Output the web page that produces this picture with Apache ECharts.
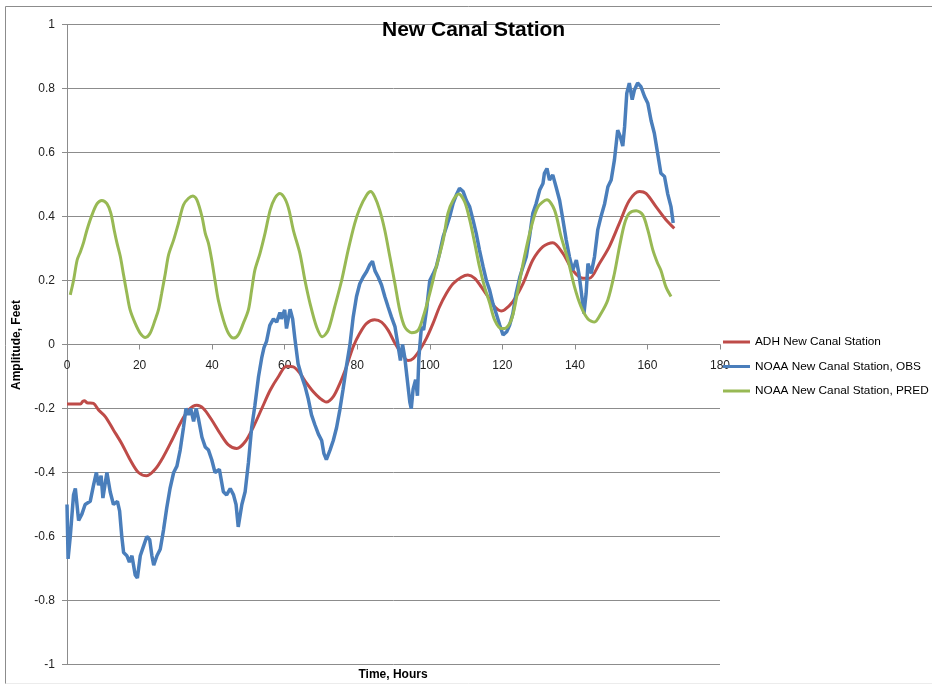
<!DOCTYPE html>
<html>
<head>
<meta charset="utf-8">
<title>New Canal Station</title>
<script src="https://cdn.jsdelivr.net/npm/echarts@6/dist/echarts.min.js"></script>
<style>
  html, body { margin: 0; padding: 0; background: #fff; }
  #chart { width: 932px; height: 684px; }
</style>
</head>
<body>
<div id="chart"></div>
<script>
// ADH model (red)
const adhHours = [0, 3.7, 4.3, 4.9, 5.5, 7.3, 8.7, 10.6, 12.8, 15.1, 17.4, 19.7, 22, 24.3, 26.6, 28.9, 31.2, 33.5, 35.8, 37.6,
  39.9, 42.2, 44.5, 46.8, 49.1, 51.4, 53.7, 56, 58.3, 60.5, 62.4, 64.2, 66, 67.9, 69.7, 71.5, 73.4, 75.2, 77, 78.9,
  80.7, 82.6, 84.8, 86.7, 88.5, 90.4, 92.2, 94, 95.4, 97.2, 99.1, 100.9, 102.7, 104.6, 106.4, 108.7, 110.5, 112.4, 114.2, 116,
  117.9, 119.7, 120.6, 122.9, 125.7, 128.4, 131.2, 133.9, 136.7, 139.4, 142.2, 144, 146.8, 149.5, 152.3, 155, 157.8, 159.6, 162.4, 165.1,
  167.4]
const adhFeet = [-0.186, -0.186, -0.178, -0.176, -0.182, -0.184, -0.205, -0.226, -0.267, -0.31, -0.36, -0.40, -0.41, -0.39, -0.35, -0.30, -0.247, -0.205, -0.19, -0.20,
  -0.236, -0.278, -0.314, -0.325, -0.304, -0.257, -0.20, -0.143, -0.10, -0.068, -0.07, -0.09, -0.12, -0.148, -0.168, -0.18, -0.163, -0.122, -0.07, -0.007,
  0.035, 0.066, 0.077, 0.07, 0.045, 0.004, -0.028, -0.05, -0.044, -0.018, 0.02, 0.066, 0.118, 0.16, 0.19, 0.21, 0.217, 0.207, 0.18, 0.15,
  0.118, 0.105, 0.108, 0.134, 0.19, 0.264, 0.306, 0.318, 0.285, 0.232, 0.207, 0.207, 0.254, 0.306, 0.38, 0.45, 0.478, 0.472, 0.43, 0.39,
  0.363]

// NOAA observed (blue)
const obsHours = [0, 0.3, 0.9, 1.8, 2.3, 3.2, 4.1, 5.0, 6.4, 7.3, 8.1, 8.7, 9.4, 9.9, 11.0, 11.9, 12.8, 13.9, 14.5, 15.1,
  15.6, 16.5, 17.2, 17.9, 18.8, 19.4, 20.2, 21.1, 22.0, 22.8, 23.4, 23.9, 24.8, 25.7, 26.6, 27.5, 28.4, 29.4, 30.3, 31.2,
  32.1, 32.8, 33.5, 34.1, 34.9, 35.6, 36.2, 37.2, 38.1, 39.0, 39.9, 40.8, 42.0, 43.1, 44.0, 45.0, 45.9, 46.6, 47.2, 48.2,
  49.1, 50.0, 50.9, 51.8, 52.8, 53.7, 54.3, 55.0, 55.9, 56.9, 57.8, 58.7, 59.1, 60.0, 60.5, 61.5, 62.2, 62.8, 63.7, 64.7,
  65.6, 66.5, 67.4, 68.3, 69.3, 70.2, 70.8, 71.5, 72.5, 73.4, 74.3, 75.2, 76.1, 77.0, 78.0, 78.9, 79.8, 80.7, 81.6, 82.6,
  83.5, 84.2, 84.9, 85.8, 86.7, 87.6, 88.5, 89.4, 90.4, 91.3, 91.9, 92.5, 93.1, 93.7, 94.5, 94.9, 95.4, 96.1, 96.6, 97.0,
  97.7, 98.3, 99.1, 100.0, 100.9, 101.8, 102.7, 103.7, 104.6, 105.5, 106.4, 107.3, 108.2, 109.2, 110.1, 111.0, 111.9, 112.8, 113.7, 114.7,
  115.6, 116.5, 117.4, 118.3, 119.3, 120.2, 121.2, 122.0, 122.9, 123.8, 124.8, 125.7, 126.6, 127.5, 128.4, 129.3, 130.3, 131.2, 131.6, 132.3,
  133.0, 133.9, 134.8, 135.8, 136.7, 137.6, 138.5, 139.4, 140.4, 141.1, 141.7, 142.5, 143.1, 143.6, 144.5, 145.4, 146.3, 147.2, 148.2, 149.1,
  150.0, 150.9, 151.8, 152.5, 153.2, 153.7, 154.3, 155.0, 155.8, 156.4, 157.3, 158.2, 159.2, 160.1, 161.0, 161.9, 162.8, 163.7, 164.7, 165.6,
  166.5, 167.1]
const obsFeet = [-0.50, -0.67, -0.60, -0.47, -0.45, -0.55, -0.53, -0.50, -0.49, -0.44, -0.40, -0.44, -0.41, -0.48, -0.40, -0.46, -0.50, -0.49, -0.52, -0.60,
  -0.65, -0.66, -0.68, -0.66, -0.72, -0.73, -0.66, -0.63, -0.60, -0.61, -0.66, -0.69, -0.66, -0.64, -0.58, -0.51, -0.45, -0.40, -0.38, -0.33,
  -0.26, -0.20, -0.22, -0.20, -0.24, -0.20, -0.23, -0.29, -0.32, -0.33, -0.36, -0.40, -0.39, -0.46, -0.47, -0.45, -0.47, -0.50, -0.57, -0.50,
  -0.46, -0.37, -0.26, -0.19, -0.10, -0.04, -0.01, 0.01, 0.06, 0.08, 0.07, 0.10, 0.08, 0.108, 0.05, 0.11, 0.08, 0.02, -0.06, -0.10,
  -0.13, -0.17, -0.22, -0.25, -0.28, -0.30, -0.34, -0.36, -0.33, -0.30, -0.26, -0.205, -0.14, -0.07, 0.0, 0.087, 0.15, 0.19, 0.21, 0.228,
  0.25, 0.26, 0.23, 0.21, 0.186, 0.15, 0.118, 0.087, 0.056, -0.007, -0.05, 0.0, -0.04, -0.10, -0.18, -0.20, -0.14, -0.11, -0.16, -0.04,
  0.055, 0.045, 0.108, 0.2, 0.22, 0.243, 0.285, 0.337, 0.368, 0.40, 0.44, 0.467, 0.488, 0.478, 0.45, 0.43, 0.39, 0.347, 0.295, 0.243,
  0.20, 0.17, 0.128, 0.097, 0.06, 0.03, 0.04, 0.06, 0.097, 0.16, 0.21, 0.243, 0.274, 0.337, 0.41, 0.44, 0.483, 0.503, 0.535, 0.55,
  0.514, 0.53, 0.493, 0.45, 0.39, 0.327, 0.274, 0.232, 0.264, 0.222, 0.17, 0.097, 0.16, 0.253, 0.222, 0.274, 0.358, 0.40, 0.44, 0.493,
  0.514, 0.577, 0.67, 0.65, 0.62, 0.68, 0.785, 0.817, 0.765, 0.795, 0.817, 0.806, 0.775, 0.754, 0.70, 0.66, 0.598, 0.535, 0.525, 0.47,
  0.43, 0.38]

// NOAA predicted (green)
const predHours = [0.9, 1.8, 2.8, 3.7, 4.6, 5.5, 6.9, 8.3, 9.6, 11, 12.1, 13, 13.8, 14.7, 15.6, 16.5, 17.4, 18.8, 20.2, 21.6,
  22.9, 24.3, 25.2, 26.1, 27.1, 28, 29.4, 30.7, 32.1, 33.5, 34.7, 35.8, 37.2, 38.1, 39, 39.9, 40.8, 41.7, 43.1, 44.5,
  45.9, 47.2, 48.6, 50, 50.9, 51.8, 53.2, 54.6, 56, 57.3, 58.7, 60.1, 61.2, 62.4, 64.2, 65.6, 67, 68.8, 70.4, 72,
  73.8, 75.7, 77.5, 79.3, 80.7, 82.6, 83.7, 84.8, 86.2, 87.6, 89, 90.4, 91.7, 93.1, 95, 96.8, 98.2, 100, 101.8, 103.7,
  105, 106.4, 108, 109.6, 111, 112.4, 113.7, 115.1, 116.5, 117.9, 119.7, 120.6, 122.5, 124.3, 126.1, 128, 129.8, 132.3, 134.4, 136.2,
  138.1, 139.9, 141.7, 143.6, 145.4, 147.2, 149.1, 150.9, 152.3, 153.7, 155, 156.9, 158.7, 160.1, 161.5, 162.8, 163.7, 165.1, 166.5]
const predFeet = [0.155, 0.20, 0.264, 0.29, 0.32, 0.358, 0.405, 0.44, 0.45, 0.44, 0.41, 0.358, 0.316, 0.275, 0.217, 0.16, 0.108, 0.066, 0.035, 0.022,
  0.035, 0.077, 0.108, 0.16, 0.222, 0.28, 0.327, 0.378, 0.436, 0.457, 0.464, 0.452, 0.40, 0.348, 0.316, 0.264, 0.20, 0.139, 0.077, 0.035,
  0.02, 0.03, 0.066, 0.108, 0.17, 0.233, 0.285, 0.348, 0.42, 0.457, 0.472, 0.455, 0.42, 0.357, 0.285, 0.20, 0.128, 0.055, 0.024, 0.045,
  0.118, 0.2, 0.295, 0.378, 0.425, 0.467, 0.478, 0.462, 0.42, 0.357, 0.274, 0.19, 0.108, 0.055, 0.037, 0.045, 0.087, 0.16, 0.243, 0.326,
  0.41, 0.45, 0.47, 0.446, 0.39, 0.316, 0.243, 0.18, 0.13, 0.076, 0.05, 0.05, 0.077, 0.17, 0.275, 0.368, 0.43, 0.452, 0.42, 0.337,
  0.264, 0.18, 0.118, 0.08, 0.07, 0.097, 0.14, 0.222, 0.306, 0.378, 0.41, 0.418, 0.405, 0.358, 0.295, 0.254, 0.232, 0.18, 0.15]

const seriesNames = ['ADH New Canal Station', 'NOAA New Canal Station, OBS', 'NOAA New Canal Station, PRED']
const seriesColors = ['#BE4B48', '#4A7EBB', '#98B954']

function pairs(xs, ys) {
  return xs.map((x, i) => [x, ys[i]])
}

const font = 'Liberation Sans, Arial, sans-serif'
const chart = echarts.init(document.getElementById('chart'))

const option = {
  animation: false,
  backgroundColor: '#fff',
  color: seriesColors,
  title: {
    text: 'New Canal Station',
    left: 382,
    top: 20,
    padding: 0,
    textStyle: { fontFamily: font, fontSize: 21, fontWeight: 'bold', color: '#000' }
  },
  grid: {
    left: 67,
    top: 24.5,
    width: 653,
    height: 640,
    outerBoundsMode: 'none'
  },
  legend: {
    data: seriesNames,
    orient: 'vertical',
    left: 723,
    top: 335,
    padding: 0,
    itemGap: 10.5,
    itemWidth: 27,
    itemHeight: 3,
    icon: 'rect',
    textStyle: { fontFamily: font, fontSize: 11.8, color: '#000', lineHeight: 14 }
  },
  xAxis: {
    type: 'value',
    min: 0,
    max: 180,
    interval: 20,
    position: 'bottom',
    // the axis crosses at 0 ft: pull it up half the grid height (640 / 2)
    offset: -320,
    axisLine: { onZero: false, lineStyle: { color: '#8c8c8c', width: 1 } },
    axisTick: { length: 5, lineStyle: { color: '#8c8c8c' } },
    axisLabel: { margin: 15, fontFamily: font, fontSize: 12, color: '#222' },
    splitLine: { show: false }
  },
  yAxis: {
    type: 'value',
    min: -1,
    max: 1,
    interval: 0.2,
    axisLine: { show: true, onZero: false, lineStyle: { color: '#8c8c8c', width: 1 } },
    axisTick: { show: true, length: 5, lineStyle: { color: '#8c8c8c' } },
    axisLabel: { margin: 12, fontFamily: font, fontSize: 12, color: '#222' },
    splitLine: { show: true, lineStyle: { color: '#8c8c8c', width: 1 } }
  },
  graphic: [
    // outer chart border (top and left edges show in the picture)
    { type: 'line', shape: { x1: 5.5, y1: 6.5, x2: 932, y2: 6.5 }, style: { stroke: '#8c8c8c', lineWidth: 1 } },
    { type: 'line', shape: { x1: 5.5, y1: 6.5, x2: 5.5, y2: 684 }, style: { stroke: '#8c8c8c', lineWidth: 1 } },
    { type: 'line', shape: { x1: 5.5, y1: 683.5, x2: 932, y2: 683.5 }, style: { stroke: '#ececec', lineWidth: 1 } },
    {
      type: 'text', x: 17, y: 345, rotation: Math.PI / 2,
      style: { text: 'Amplitude, Feet', font: 'bold 12px ' + font, fill: '#000', align: 'center', verticalAlign: 'middle' }
    },
    {
      type: 'text', x: 393, y: 675,
      style: { text: 'Time, Hours', font: 'bold 12px ' + font, fill: '#000', align: 'center', verticalAlign: 'middle' }
    }
  ],
  series: [
    {
      name: seriesNames[0], type: 'line', data: pairs(adhHours, adhFeet),
      showSymbol: false, smooth: 0.3, lineStyle: { width: 3 }
    },
    {
      name: seriesNames[1], type: 'line', data: pairs(obsHours, obsFeet),
      showSymbol: false, lineStyle: { width: 3.5 }
    },
    {
      name: seriesNames[2], type: 'line', data: pairs(predHours, predFeet),
      showSymbol: false, smooth: 0.3, lineStyle: { width: 3 }
    }
  ]
}

chart.setOption(option)
</script>
</body>
</html>
